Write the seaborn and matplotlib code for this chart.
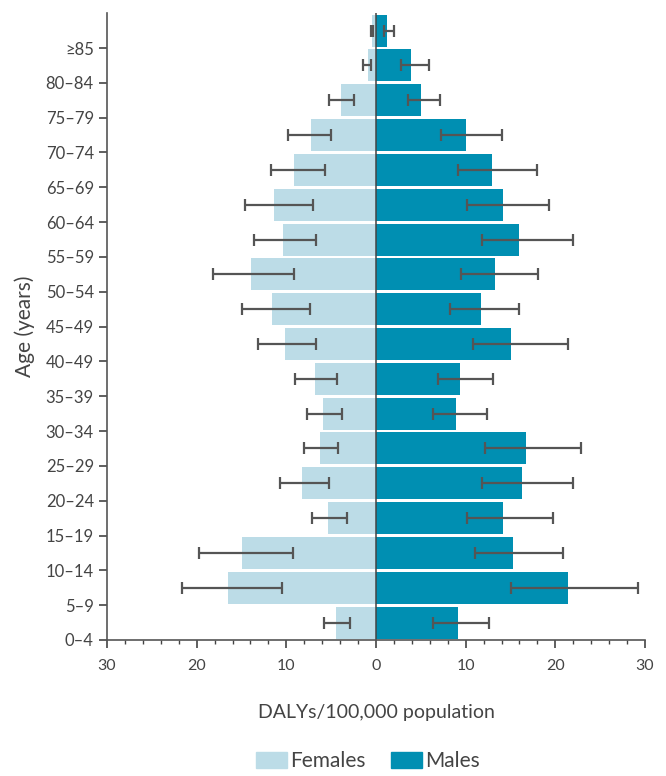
import matplotlib
matplotlib.use('Agg')
import matplotlib.pyplot as plt
import seaborn as sns
import pandas as pd
import numpy as np
from matplotlib.ticker import FuncFormatter, MultipleLocator

# age groups, top to bottom
ages = ['≥85', '80–84', '75–79', '70–74', '65–69', '60–64', '55–59', '50–54', '45–49',
        '40–49', '35–39', '30–34', '25–29', '20–24', '15–19', '10–14', '5–9', '0–4']

females = [0.5, 0.9, 3.9, 7.3, 9.1, 11.4, 10.4, 13.9, 11.6,
           10.1, 6.8, 5.9, 6.2, 8.3, 5.4, 15.0, 16.5, 4.5]
females_lo = [0.35, 0.6, 2.5, 5.0, 5.7, 7.0, 6.7, 9.1, 7.4,
              6.7, 4.4, 3.8, 4.2, 5.3, 3.2, 9.3, 10.5, 2.9]
females_hi = [0.55, 1.4, 5.2, 9.8, 11.7, 14.6, 13.6, 18.2, 15.0,
              13.2, 9.0, 7.7, 8.0, 10.7, 7.1, 19.7, 21.6, 5.8]

males = [1.2, 3.9, 5.0, 10.0, 12.9, 14.2, 15.9, 13.3, 11.7,
         15.1, 9.4, 8.9, 16.7, 16.3, 14.2, 15.3, 21.4, 9.1]
males_lo = [0.9, 2.8, 3.6, 7.2, 9.1, 10.2, 11.8, 9.5, 8.3,
            10.8, 6.9, 6.3, 12.1, 11.8, 10.1, 11.0, 15.0, 6.4]
males_hi = [2.0, 5.9, 7.1, 14.0, 18.0, 19.3, 22.0, 18.1, 15.9,
            21.4, 13.1, 12.4, 22.9, 22.0, 19.7, 20.8, 29.2, 12.6]

female_col = '#bcdce7'
male_col = '#008fb2'
text_col = '#444444'

df = pd.DataFrame({
    'Age': ages * 2,
    'DALYs': [-v for v in females] + males,
    'Sex': ['Females'] * len(ages) + ['Males'] * len(ages),
})

sns.set_style('white')
plt.rcParams['font.family'] = ['Lato', 'DejaVu Sans']
plt.rcParams['text.color'] = text_col
plt.rcParams['axes.labelcolor'] = text_col
plt.rcParams['xtick.color'] = text_col
plt.rcParams['ytick.color'] = text_col

fig = plt.figure(figsize=(6.66, 7.76), dpi=100)
ax = fig.add_axes([0.1607, 0.1753, 0.8078, 0.8077])

sns.barplot(data=df, x='DALYs', y='Age', hue='Sex', order=ages, dodge=False,
            palette={'Females': female_col, 'Males': male_col}, width=0.92,
            saturation=1, orient='h', legend=False, ax=ax, linewidth=0)

pos = np.arange(len(ages))
f = np.array(females_lo), np.array(females_hi)
m = np.array(males_lo), np.array(males_hi)
ax.errorbar(-(f[0] + f[1]) / 2, pos, xerr=(f[1] - f[0]) / 2, fmt='none',
            ecolor='#555555', elinewidth=1.6, capsize=4, capthick=1.6)
ax.errorbar((m[0] + m[1]) / 2, pos, xerr=(m[1] - m[0]) / 2, fmt='none',
            ecolor='#555555', elinewidth=1.6, capsize=4, capthick=1.6)

ax.axvline(0, color='#444444', lw=1.1)

ax.set_xlim(-30, 30)
ax.set_ylim(len(ages) - 0.5, -0.5)
ax.set_yticks(pos + 0.5)
ax.set_yticklabels(ages, fontsize=12)
ax.xaxis.set_major_locator(MultipleLocator(10))
ax.xaxis.set_minor_locator(MultipleLocator(2))
ax.xaxis.set_major_formatter(FuncFormatter(lambda v, p: f'{abs(v):.0f}'))
ax.tick_params(axis='x', which='major', length=6, width=1.2, labelsize=11.5, pad=8, bottom=True)
ax.tick_params(axis='x', which='minor', length=3, width=1, bottom=True)
ax.tick_params(axis='y', length=6, width=1.2, left=True)

sns.despine(ax=ax)
for s in ['left', 'bottom']:
    ax.spines[s].set_color('#555555')
    ax.spines[s].set_linewidth(1.2)

ax.set_xlabel('DALYs/100,000 population', fontsize=14, labelpad=22)
ax.set_ylabel('Age (years)', fontsize=15, labelpad=8)

handles = [plt.Rectangle((0, 0), 1, 1, color=female_col),
           plt.Rectangle((0, 0), 1, 1, color=male_col)]
fig.legend(handles, ['Females', 'Males'], loc='lower center', ncol=2,
           bbox_to_anchor=(0.552, -0.018), frameon=False, fontsize=15,
           handlelength=1.5, handleheight=0.75, handletextpad=0.15, columnspacing=1.2)

plt.savefig('out.png', dpi=100)
